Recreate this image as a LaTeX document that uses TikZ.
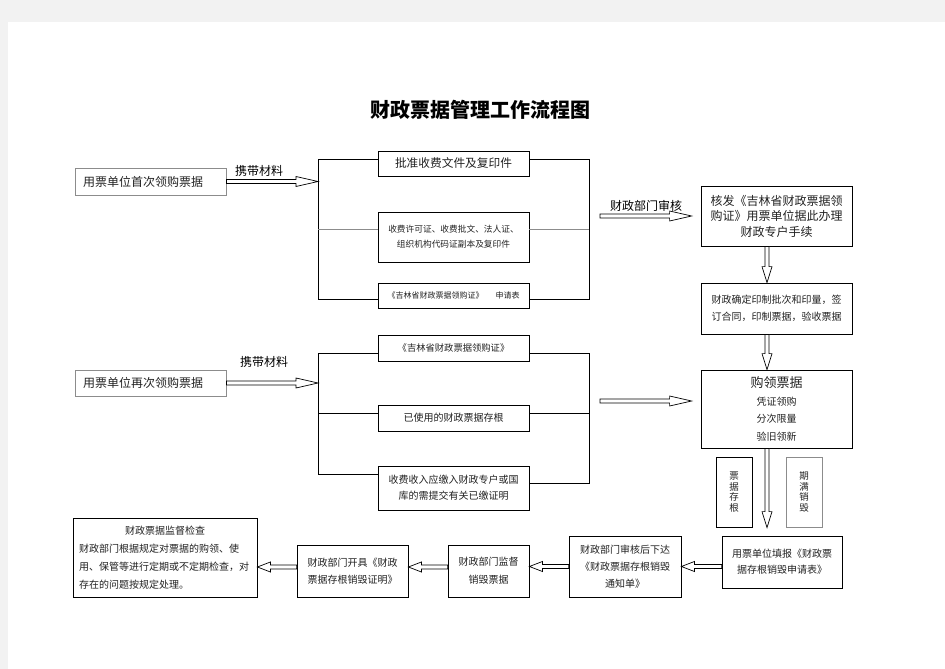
\documentclass[tikz,border=0pt]{standalone}
\usepackage{fontspec}
\setmainfont{Noto Sans CJK SC}
\usetikzlibrary{calc}
\definecolor{pagegray}{HTML}{F2F2F2}
\definecolor{boxgray}{HTML}{8C8C8C}
\definecolor{txt}{HTML}{222222}
\newcommand{\myfs}[2]{\fontsize{#1}{#2}\selectfont}
\newcommand{\hdlen}{15pt}
\begin{document}
\begin{tikzpicture}[x=1pt,y=-1pt,
  box/.style={draw=black, line width=0.8pt, align=center, inner sep=0pt, fill=white, text=txt},
  ln/.style={draw=black, line width=0.8pt},
  lngray/.style={draw=boxgray, line width=0.8pt},
  lbl/.style={font=\myfs{12}{14}, inner sep=0pt},
  headlen/.code={\renewcommand{\hdlen}{#1}},
  hollow/.style={draw=black, fill=white, line width=0.7pt, to path={
    let \p1=($(\tikztotarget)-(\tikztostart)$), \n1={veclen(\x1,\y1)}, \n2={atan2(\y1,\x1)} in
    ([shift={(\tikztostart)},rotate=\n2]0pt,2pt)
    -- ([shift={(\tikztostart)},rotate=\n2]{\n1*1pt-\hdlen},2pt)
    -- ([shift={(\tikztostart)},rotate=\n2]{\n1*1pt-\hdlen},5pt)
    -- ([shift={(\tikztostart)},rotate=\n2]{\n1*1pt},0pt)
    -- ([shift={(\tikztostart)},rotate=\n2]{\n1*1pt-\hdlen},-5pt)
    -- ([shift={(\tikztostart)},rotate=\n2]{\n1*1pt-\hdlen},-2pt)
    -- ([shift={(\tikztostart)},rotate=\n2]0pt,-2pt) -- cycle (\tikztotarget)}}
]
\fill[pagegray] (0,0) rectangle (945,669);
\fill[white] (8,22) rectangle (945,669);
\path[use as bounding box] (0,0) rectangle (945,669);

% title
\node[font=\myfs{20}{24}\bfseries] (title) at (480,110) {财政票据管理工作流程图};

% bracket x references
\coordinate (LB) at (318,0);
\coordinate (RB) at (589,0);

% left boxes
\node[box, draw=boxgray, minimum width=151pt, minimum height=27pt, text width=135pt, align=left, font=\myfs{12}{14}] (b1) at (150.5,181.5) {用票单位首次领购票据};
\node[box, draw=boxgray, minimum width=151pt, minimum height=26pt, text width=135pt, align=left, font=\myfs{12}{14}] (b2) at (150.5,383) {用票单位再次领购票据};

% first group material boxes
\node[box, minimum width=151pt, minimum height=25pt, font=\myfs{11.7}{14}] (m1) at (453.5,163.5) {批准收费文件及复印件};
\node[box, minimum width=151pt, minimum height=50pt, font=\myfs{8.7}{15}] (m2) at (453.5,237) {收费许可证、收费批文、法人证、\\组织机构代码证副本及复印件};
\node[box, minimum width=151pt, minimum height=25pt, font=\myfs{8}{10}] (m3) at (453.5,295.5) {《吉林省财政票据领购证》\hspace{12pt}申请表};

% second group material boxes
\node[box, minimum width=151pt, minimum height=26pt, font=\myfs{9.3}{11}] (n1) at (453.5,348) {《吉林省财政票据领购证》};
\node[box, minimum width=151pt, minimum height=26pt, font=\myfs{10}{12}] (n2) at (453.5,418) {已使用的财政票据存根};
\node[box, minimum width=151pt, minimum height=44pt, font=\myfs{10}{16}] (n3) at (453.5,488) {收费收入应缴入财政专户或国\\库的需提交有关已缴证明};

% right column
\node[box, minimum width=151pt, minimum height=60pt, font=\myfs{12}{15.5}] (r1) at (776.5,216) {核发《吉林省财政票据领\\购证》用票单位据此办理\\财政专户手续};
\node[box, minimum width=151pt, minimum height=51pt, font=\myfs{10}{17}] (r2) at (776.5,308.5) {财政确定印制批次和印量，签\\订合同，印制票据，验收票据};
\node[box, minimum width=151pt, minimum height=78pt, font=\myfs{10}{17.5}] (r3) at (776.5,409) {{\myfs{13}{15}购领票据}\\凭证领购\\分次限量\\验旧领新};
\node[box, minimum width=36pt, minimum height=70pt, font=\myfs{9.5}{10.5}] (v1) at (734,492) {票\\据\\存\\根};
\node[box, draw=boxgray, minimum width=36pt, minimum height=70pt, font=\myfs{9.5}{10.5}] (v2) at (804,492) {期\\满\\销\\毁};

% bottom row
\node[box, minimum width=120pt, minimum height=52pt, font=\myfs{10}{16}] (s1) at (782,562) {用票单位填报《财政票\\据存根销毁申请表》};
\node[box, minimum width=112pt, minimum height=61pt, font=\myfs{10}{17}] (s2) at (625,566.5) {财政部门审核后下达\\《财政票据存根销毁\\通知单》};
\node[box, minimum width=81pt, minimum height=52pt, font=\myfs{10}{18}] (s3) at (488.5,571) {财政部门监督\\销毁票据};
\node[box, minimum width=111pt, minimum height=52pt, font=\myfs{10}{17}] (s4) at (352.5,571) {财政部门开具《财政\\票据存根销毁证明》};
\node[box, minimum width=184pt, minimum height=79pt, text width=172pt, align=left, font=\myfs{10}{18}] (s5) at (165,557.5) {\makebox[172pt]{财政票据监督检查}\\财政部门根据规定对票据的购领、使\\用、保管等进行定期或不定期检查，对\\存在的问题按规定处理。};

% bracket lines group 1
\draw[ln] ([yshift=4.5pt]m1.west) -- ([yshift=4.5pt]m1.west -| LB) -- ([yshift=-3.5pt]m3.west -| LB) -- ([yshift=-3.5pt]m3.west);
\draw[lngray] ([yshift=8pt]m2.west -| LB) -- ([yshift=8pt]m2.west);
\draw[ln] ([yshift=4.5pt]m1.east) -- ([yshift=4.5pt]m1.east -| RB) -- ([yshift=-3.5pt]m3.east -| RB) -- ([yshift=-3.5pt]m3.east);
\draw[lngray] ([yshift=8pt]m2.east -| RB) -- ([yshift=8pt]m2.east);

% bracket lines group 2
\draw[ln] ([yshift=-5pt]n1.west) -- ([yshift=-5pt]n1.west -| LB) -- ([yshift=14pt]n3.west -| LB) -- ([yshift=14pt]n3.west);
\draw[ln] ([yshift=5pt]n2.west -| LB) -- ([yshift=5pt]n2.west);
\draw[ln] ([yshift=-5pt]n1.east) -- ([yshift=-5pt]n1.east -| RB) -- ([yshift=5pt]n3.east -| RB) -- ([yshift=5pt]n3.east);
\draw[ln] ([yshift=5pt]n2.east -| RB) -- ([yshift=5pt]n2.east);

% free arrow ends
\coordinate (a1s) at ([xshift=11pt]RB |- r1.west);
\coordinate (a2s) at ([xshift=11pt,yshift=8pt]RB |- r3.west);
\coordinate (d1s) at ([xshift=-9.5pt]r1.south);
\coordinate (d2s) at ([xshift=-9.5pt]r2.south);
\coordinate (d3s) at ([xshift=-9.5pt]r3.south);

% arrows into brackets
\draw[hollow, headlen=22pt] (b1.east) to (b1.east -| LB);
\draw[hollow, headlen=22pt] (b2.east) to (b2.east -| LB);
\node[lbl] (lab1) at (259,171) {携带材料};
\node[lbl] (lab2) at (264,362) {携带材料};

% arrows to right column
\draw[hollow, headlen=22pt] (a1s) to ([xshift=-9pt]r1.west);
\node[lbl] (lab3) at (646,206) {财政部门审核};
\draw[hollow, headlen=22pt] (a2s) to ([xshift=-9pt,yshift=8pt]r3.west);

% vertical arrows
\draw[hollow, headlen=16pt] (d1s) to (d1s |- r2.north);
\draw[hollow, headlen=16pt] (d2s) to (d2s |- r3.north);
\draw[hollow, headlen=16pt] (d3s) to ([yshift=8pt]d3s |- s1.north);

% bottom arrows
\draw[hollow, headlen=13pt] (s1.west |- s2.east) to (s2.east);
\draw[hollow, headlen=13pt] (s2.west) to (s3.east |- s2.west);
\draw[hollow, headlen=13pt] ([yshift=4pt]s3.west) to ([yshift=4pt]s4.east);
\draw[hollow, headlen=13pt] ([yshift=4pt]s4.west) to ([yshift=4pt]s5.east |- s4.west);
\end{tikzpicture}
\end{document}
